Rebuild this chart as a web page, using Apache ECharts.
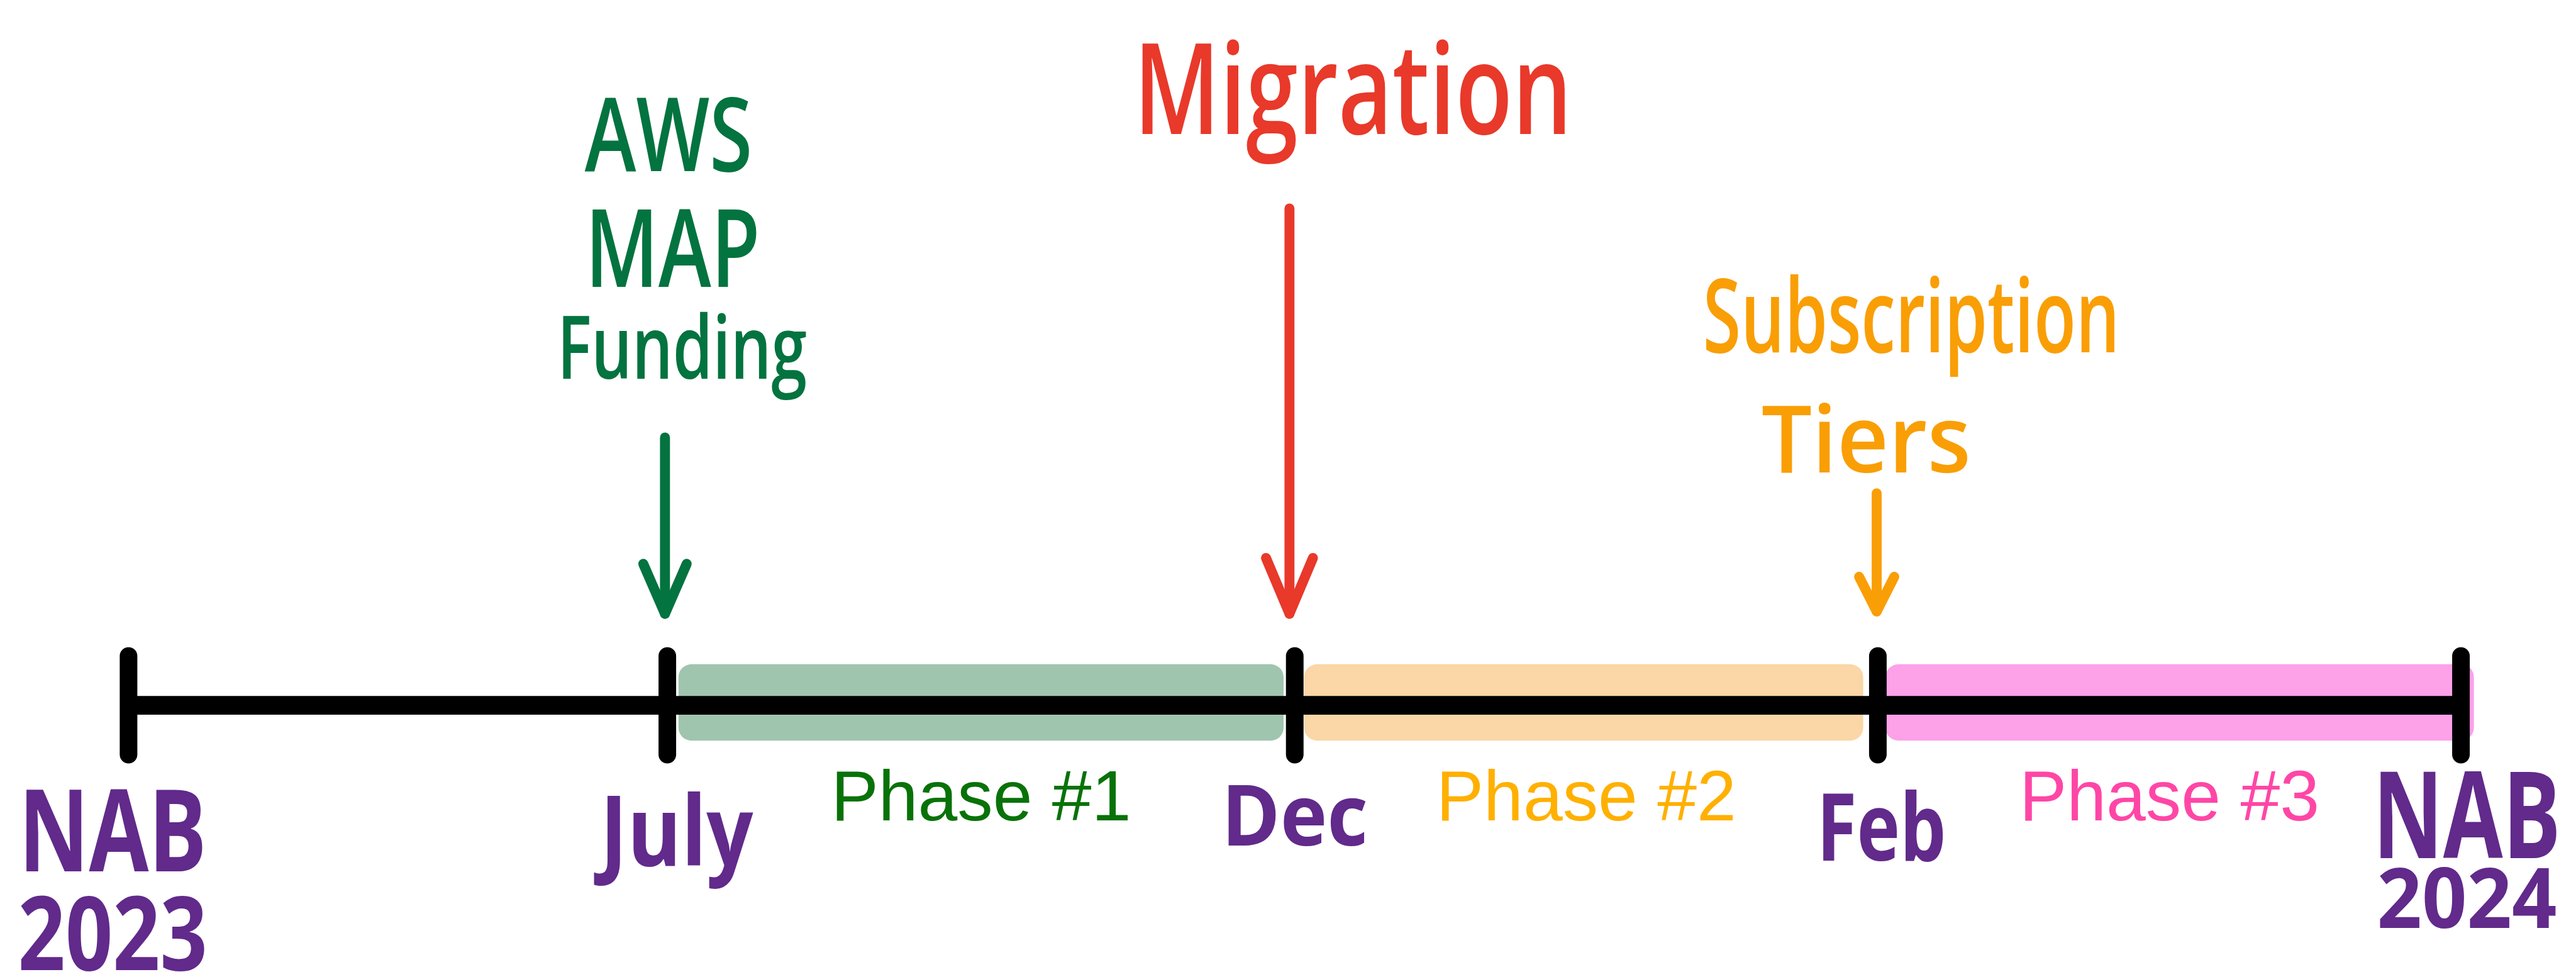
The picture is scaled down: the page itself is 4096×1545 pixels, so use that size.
<!DOCTYPE html>
<html>
<head>
<meta charset="utf-8">
<title>NAB 2023 - NAB 2024 roadmap</title>
<script src="https://cdn.jsdelivr.net/npm/echarts@6/dist/echarts.min.js"></script>
<style>
  html, body { margin: 0; padding: 0; background: #fff; }
  #chart { width: 4096px; height: 1545px; }
</style>
</head>
<body>
<div id="chart"></div>
<script>
// --- data -------------------------------------------------------------
const milestoneNames = ['NAB\n2023', 'July', 'Dec', 'Feb', 'NAB\n2024'];
const milestonePos = [0, 23.1, 50, 75, 100]; // % of the way through the year

const phaseNames = ['Phase #1', 'Phase #2', 'Phase #3'];
const phaseStart = [23.1, 50, 75];
const phaseEnd = [50, 75, 100];

const eventNames = ['AWS\nMAP\nFunding', 'Migration', 'Subscription\nTiers'];
const eventPos = [23.1, 50, 75];

// --- styles -----------------------------------------------------------
const purple = '#612a8b';
const phaseColors = ['#087208', '#ffb000', '#ff46a6'];
const bandColors = ['#9fc5ae', '#fbd6a6', '#fda1e9'];
const eventColors = ['#03733f', '#e8392a', '#f99e05'];
const HAND_FONT = '"Open Sans", "DejaVu Sans", sans-serif';
const PHASE_FONT = '"Liberation Sans", Arial, sans-serif';

// --- layout, in pixels of the 4389 x 1655 reference ------------------
const W = 4389, H = 1655;
const AXIS_LEFT = 219, AXIS_RIGHT = 4193, LINE_Y = 1201;
const LINE_WIDTH = 32, TICK_WIDTH = 30, TICK_HALF = 99;
const BAND_MID = 5, BAND_HALF = 65, BAND_R = 22;
const bandInset = [[19, 19], [16, 25], [13, -22]];
const PHASE_BASE = -196, PHASE_SIZE = 121;

// one entry per text line: dx from the mark, baseline height above the line, font size, drawn width
const milestoneLayout = [
  [{ dx: -27, base: -283, size: 195, w: 300 }, { dx: -27, base: -451, size: 175, w: 312 }],
  [{ dx: 16, base: -273, size: 165, w: 272 }],
  [{ dx: 0, base: -239, size: 145, w: 234 }],
  [{ dx: 6, base: -264, size: 160, w: 204 }],
  [{ dx: 10, base: -260, size: 205, w: 300 }, { dx: 10, base: -379, size: 143, w: 300 }]
];
const eventLayout = [
  [{ dx: 2, base: 910, size: 175, w: 280 }, { dx: 9, base: 713, size: 185, w: 279 },
   { dx: 25, base: 556, size: 150, w: 414 }],
  [{ dx: 99, base: 973, size: 215, w: 720 }],
  [{ dx: 57, base: 601, size: 175, w: 696 }, { dx: -20, base: 396, size: 160, w: 349 }]
];
const arrowLayout = [
  { dx: -4, top: 456, tip: 156, head: 85, half: 37 },
  { dx: -9, top: 846, tip: 156, head: 95, half: 40 },
  { dx: -2, top: 361, tip: 160, head: 59, half: 30 }
];
const ARROW_WIDTH = 17;

const chart = echarts.init(document.getElementById('chart'));
const s = chart.getWidth() / W;
const px = v => v * s;

// text measuring, so the labels can be squeezed to the hand-drawn widths
const mctx = document.createElement('canvas').getContext('2d');
function measure(str, font) {
  mctx.font = font;
  mctx.textBaseline = 'alphabetic';
  const a = mctx.measureText(str);
  mctx.textBaseline = 'middle';
  const m = mctx.measureText(str);
  const size = parseFloat(font.match(/([\d.]+)px/)[1]);
  let drop = a.fontBoundingBoxAscent - m.fontBoundingBoxAscent;
  if (!isFinite(drop)) drop = 0.27 * size;
  let ink = (a.actualBoundingBoxLeft || 0) + (a.actualBoundingBoxRight || 0);
  if (!ink) ink = a.width;
  return { width: a.width, ink: ink, drop: drop };
}

function handLine(api, pos, line, str, color, weight) {
  const font = weight + ' ' + px(line.size).toFixed(1) + 'px ' + HAND_FONT;
  const m = measure(str, font);
  const p = api.coord([pos, line.base]);
  return {
    type: 'text',
    x: p[0] + px(line.dx),
    y: p[1] - m.drop,
    scaleX: px(line.w) / m.ink,
    style: { text: str, font: font, fill: color, align: 'center', verticalAlign: 'middle' }
  };
}

const option = {
  animation: false,
  backgroundColor: '#fff',
  grid: { left: px(AXIS_LEFT), right: px(W - AXIS_RIGHT), top: 0, bottom: 0 },
  xAxis: { type: 'value', min: 0, max: 100, show: false },
  yAxis: { type: 'value', min: LINE_Y - H, max: LINE_Y, show: false },
  series: [
    {
      // coloured highlighter bands behind each phase
      type: 'custom',
      silent: true,
      clip: false,
      z: 1,
      data: phaseNames.map((n, i) => [phaseStart[i], phaseEnd[i]]),
      renderItem: (params, api) => {
        const i = params.dataIndex;
        const a = api.coord([phaseStart[i], BAND_MID]);
        const b = api.coord([phaseEnd[i], BAND_MID]);
        const x0 = a[0] + px(bandInset[i][0]);
        const x1 = b[0] - px(bandInset[i][1]);
        return {
          type: 'rect',
          shape: { x: x0, y: a[1] - px(BAND_HALF), width: x1 - x0, height: px(BAND_HALF * 2), r: px(BAND_R) },
          style: { fill: bandColors[i] }
        };
      }
    },
    {
      // the timeline itself
      type: 'line',
      silent: true,
      z: 2,
      symbol: 'none',
      data: [[milestonePos[0], 0], [milestonePos[milestonePos.length - 1], 0]],
      lineStyle: { color: '#000', width: px(LINE_WIDTH), cap: 'butt' }
    },
    {
      // milestone ticks
      type: 'custom',
      silent: true,
      clip: false,
      z: 3,
      data: milestonePos.map(v => [v, 0]),
      renderItem: (params, api) => {
        const v = milestonePos[params.dataIndex];
        const top = api.coord([v, TICK_HALF]);
        const bottom = api.coord([v, -TICK_HALF]);
        return {
          type: 'rect',
          shape: { x: top[0] - px(TICK_WIDTH / 2), y: top[1], width: px(TICK_WIDTH), height: bottom[1] - top[1], r: px(TICK_WIDTH / 2) },
          style: { fill: '#000' }
        };
      }
    },
    {
      // milestone names under the ticks
      type: 'custom',
      silent: true,
      clip: false,
      z: 4,
      data: milestonePos.map(v => [v, 0]),
      renderItem: (params, api) => {
        const i = params.dataIndex;
        const lines = milestoneNames[i].split('\n');
        return {
          type: 'group',
          children: lines.map((str, k) => handLine(api, milestonePos[i], milestoneLayout[i][k], str, purple, 700))
        };
      }
    },
    {
      // phase names between the ticks
      type: 'custom',
      silent: true,
      clip: false,
      z: 4,
      data: phaseNames.map((n, i) => [(phaseStart[i] + phaseEnd[i]) / 2, 0]),
      renderItem: (params, api) => {
        const i = params.dataIndex;
        const font = 'normal ' + px(PHASE_SIZE).toFixed(1) + 'px ' + PHASE_FONT;
        const m = measure(phaseNames[i], font);
        const p = api.coord([(phaseStart[i] + phaseEnd[i]) / 2, PHASE_BASE]);
        return {
          type: 'text',
          x: p[0],
          y: p[1] - m.drop,
          style: { text: phaseNames[i], font: font, fill: phaseColors[i], align: 'center', verticalAlign: 'middle' }
        };
      }
    },
    {
      // events with their arrows
      type: 'custom',
      silent: true,
      clip: false,
      z: 5,
      data: eventPos.map(v => [v, 0]),
      renderItem: (params, api) => {
        const i = params.dataIndex;
        const color = eventColors[i];
        const ar = arrowLayout[i];
        const top = api.coord([eventPos[i], ar.top]);
        const tip = api.coord([eventPos[i], ar.tip]);
        const x = top[0] + px(ar.dx);
        const stroke = { stroke: color, fill: 'none', lineWidth: px(ARROW_WIDTH), lineCap: 'round', lineJoin: 'round' };
        const children = eventNames[i].split('\n').map((str, k) => handLine(api, eventPos[i], eventLayout[i][k], str, color, 600));
        children.push({
          type: 'line',
          shape: { x1: x, y1: top[1], x2: x, y2: tip[1] },
          style: stroke
        });
        children.push({
          type: 'polyline',
          shape: { points: [[x - px(ar.half), tip[1] - px(ar.head)], [x, tip[1]], [x + px(ar.half), tip[1] - px(ar.head)]] },
          style: stroke
        });
        return { type: 'group', children: children };
      }
    }
  ]
};

chart.setOption(option);
</script>
</body>
</html>
